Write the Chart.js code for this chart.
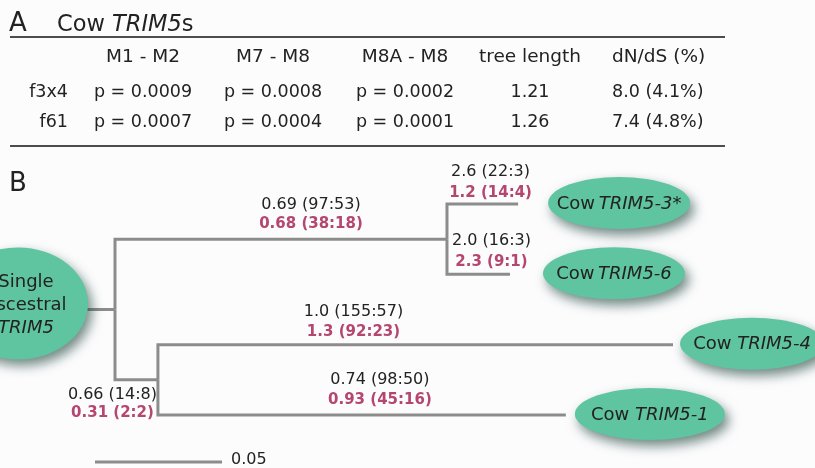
<!DOCTYPE html>
<html>
<head>
<meta charset="utf-8">
<script src="https://cdn.jsdelivr.net/npm/chart.js@4.4.1/dist/chart.umd.min.js"></script>
<style>
  html, body { margin: 0; padding: 0; background: #fcfcfd; }
  #wrap { position: relative; width: 815px; height: 468px; overflow: hidden; font-family: "DejaVu Sans", sans-serif; color: #222; }
  #tree { position: absolute; left: 0; top: 0; }
  .t { position: absolute; white-space: nowrap; line-height: 24px; height: 24px; }
  .c { width: 160px; text-align: center; }
  .r { width: 80px; text-align: right; }
  .rule { position: absolute; left: 10px; width: 715px; height: 2px; background: #4d4d4d; }
</style>
</head>
<body>
<div id="wrap">
  <canvas id="tree" width="815" height="468"></canvas>
  <div id="table"></div>
</div>
<script>
// ---- panel A: table ----
const columnHeaders = ["M1 - M2", "M7 - M8", "M8A - M8", "tree length", "dN/dS (%)"];
const rowLabels = ["f3x4", "f61"];
const f3x4Row = ["p = 0.0009", "p = 0.0008", "p = 0.0002", "1.21", "8.0 (4.1%)"];
const f61Row = ["p = 0.0007", "p = 0.0004", "p = 0.0001", "1.26", "7.4 (4.8%)"];

// ---- panel B: tree (branch lengths in substitutions/site) ----
const nodeNames = ["root", "A", "B", "TRIM5-3*", "TRIM5-6", "TRIM5-4", "TRIM5-1"];
const nodeParent = [-1, 0, 0, 1, 1, 2, 2];
const branchLength = [0, 0.1307, 0.0169, 0.0280, 0.0248, 0.2028, 0.1606];
const leafOrder = [null, null, null, 0, 1, 2, 3];
const leafSpaced = [null, null, null, false, false, true, true];
const f3x4Omega = ["", "0.69 (97:53)", "0.66 (14:8)", "2.6 (22:3)", "2.0 (16:3)", "1.0 (155:57)", "0.74 (98:50)"];
const f61Omega = ["", "0.68 (38:18)", "0.31 (2:2)", "1.2 (14:4)", "2.3 (9:1)", "1.3 (92:23)", "0.93 (45:16)"];
const rootLines = ["Single", "ascestral", "TRIM5"];
const scaleBarLength = 0.05;

// layout / style (pixels)
const COLORS = { line: "#8c8c8c", text: "#222", pink: "#b4466f", oval: "#5fc4a0" };
const colCenters = [143, 273, 405, 530];
const lastColLeft = 612;
const labelOffsets = [null, [30, -34, -15], [-24, 15, 33], [8, -32, -11], [13, -33, -12], [-62, -33, -13], [18, -35, -15]];
const ovalGap = [null, null, null, 30, 33, 7, 9];
const ovalRx = [null, null, null, 71, 71, 72, 75];

function cell(text, left, top, cls, size, extra = "") {
  return `<div class="t ${cls}" style="left:${left}px;top:${top - 12}px;font-size:${size}px;${extra}">${text}</div>`;
}

function buildTable() {
  let html = "";
  html += cell("A", 9, 22, "", 26);
  html += cell("Cow <i>TRIM5</i>s", 57, 23, "", 22.5);
  html += `<div class="rule" style="top:36px"></div>`;
  html += `<div class="rule" style="top:145px"></div>`;
  columnHeaders.forEach((h, i) => {
    html += i < 4 ? cell(h, colCenters[i] - 80, 56, "c", 18.5) : cell(h, lastColLeft, 56, "", 18.5);
  });
  [f3x4Row, f61Row].forEach((row, r) => {
    const y = r === 0 ? 91 : 121;
    html += cell(rowLabels[r], -12, y, "r", 17.5);
    row.forEach((v, i) => {
      html += i < 4 ? cell(v, colCenters[i] - 80, y, "c", 17.5) : cell(v, lastColLeft, y, "", 17.5);
    });
  });
  document.getElementById("table").innerHTML = html;
}
buildTable();

// node coordinates: x = cumulative branch length, y = leaf slot (internal = mean of children)
const nodeX = nodeNames.map(() => 0);
const nodeY = nodeNames.map(() => 0);
nodeNames.forEach((_, i) => { if (nodeParent[i] >= 0) nodeX[i] = nodeX[nodeParent[i]] + branchLength[i]; });
for (let i = nodeNames.length - 1; i >= 0; i--) {
  const kids = nodeParent.map((p, k) => (p === i ? k : -1)).filter((k) => k >= 0);
  nodeY[i] = kids.length ? kids.reduce((s, k) => s + nodeY[k], 0) / kids.length : leafOrder[i];
}

const pxUnit = scaleBarLength / 127;
const slotPx = 70.33;
const stubLength = 29 * pxUnit;
const scaleBarX = -20 * pxUnit;
const scaleBarY = 258 / slotPx;

const datasets = [];
nodeNames.forEach((_, i) => {
  const p = nodeParent[i];
  if (p < 0) return;
  datasets.push({ data: [{ x: nodeX[p], y: nodeY[p] }, { x: nodeX[p], y: nodeY[i] }, { x: nodeX[i], y: nodeY[i] }] });
});
datasets.push({ data: [{ x: -stubLength, y: nodeY[0] }, { x: 0, y: nodeY[0] }] });
datasets.push({ data: [{ x: scaleBarX, y: scaleBarY }, { x: scaleBarX + scaleBarLength, y: scaleBarY }] });
datasets.forEach((d) => Object.assign(d, { showLine: true, borderColor: COLORS.line, borderWidth: 3, pointRadius: 0, borderJoinStyle: "miter", borderCapStyle: "butt", tension: 0 }));

function oval(ctx, cx, cy, rx, ry) {
  ctx.save();
  ctx.shadowColor = "rgba(20,60,50,0.6)";
  ctx.shadowBlur = 12;
  ctx.shadowOffsetX = 4;
  ctx.shadowOffsetY = 6;
  ctx.fillStyle = COLORS.oval;
  ctx.beginPath();
  ctx.ellipse(cx, cy, rx, ry, 0, 0, Math.PI * 2);
  ctx.fill();
  ctx.restore();
}

const treeDecor = {
  id: "treeDecor",
  afterDatasetsDraw(chart) {
    const ctx = chart.ctx;
    const xs = chart.scales.x, ys = chart.scales.y;
    const px = (i) => xs.getPixelForValue(nodeX[i]);
    const py = (i) => ys.getPixelForValue(nodeY[i]);
    ctx.save();
    ctx.textBaseline = "middle";

    // panel letter
    ctx.fillStyle = COLORS.text;
    ctx.font = "26px 'DejaVu Sans'";
    ctx.textAlign = "left";
    ctx.fillText("B", 9, 184);

    // root oval
    const stubLeft = xs.getPixelForValue(-stubLength);
    const rcx = stubLeft + 2 - 70, rcy = py(0) - 6;
    oval(ctx, rcx, rcy, 70, 56);
    ctx.fillStyle = COLORS.text;
    ctx.textAlign = "center";
    rootLines.forEach((t, k) => {
      ctx.font = (k === 2 ? "italic " : "") + "18px 'DejaVu Sans'";
      ctx.fillText(t, 26, rcy - 21 + k * 23);
    });

    // leaf ovals
    nodeNames.forEach((name, i) => {
      if (leafOrder[i] === null) return;
      const rx = ovalRx[i];
      const cx = px(i) + ovalGap[i] + rx, cy = py(i) - 1;
      oval(ctx, cx, cy, rx, 26);
      const pre = leafSpaced[i] ? "Cow " : "Cow\u2009";
      ctx.font = "18px 'DejaVu Sans'";
      const w1 = ctx.measureText(pre).width;
      ctx.font = "italic 18px 'DejaVu Sans'";
      const w2 = ctx.measureText(name).width;
      const x0 = cx - (w1 + w2) / 2;
      ctx.textAlign = "left";
      ctx.fillStyle = COLORS.text;
      ctx.font = "18px 'DejaVu Sans'";
      ctx.fillText(pre, x0, cy + 1);
      ctx.font = "italic 18px 'DejaVu Sans'";
      ctx.fillText(name, x0 + w1, cy + 1);
    });

    // branch labels: f3x4 (black) above f61 (pink, bold)
    ctx.textAlign = "center";
    nodeNames.forEach((_, i) => {
      const p = nodeParent[i];
      if (p < 0) return;
      const [dx, dy1, dy2] = labelOffsets[i];
      const mx = (px(p) + px(i)) / 2 + dx, by = py(i);
      ctx.fillStyle = COLORS.text;
      ctx.font = "16px 'DejaVu Sans'";
      ctx.fillText(f3x4Omega[i], mx, by + dy1);
      ctx.fillStyle = COLORS.pink;
      ctx.font = "bold 15px 'DejaVu Sans'";
      ctx.fillText(f61Omega[i], mx, by + dy2);
    });

    // scale bar label
    ctx.fillStyle = COLORS.text;
    ctx.font = "16px 'DejaVu Sans'";
    ctx.textAlign = "left";
    ctx.fillText(String(scaleBarLength), xs.getPixelForValue(scaleBarX + scaleBarLength) + 9, ys.getPixelForValue(scaleBarY) - 2);
    ctx.restore();
  },
};

new Chart(document.getElementById("tree"), {
  type: "scatter",
  data: { datasets },
  options: {
    responsive: false,
    animation: false,
    layout: { padding: 0 },
    plugins: { legend: { display: false }, tooltip: { enabled: false } },
    scales: {
      x: { type: "linear", display: false, min: -115 * pxUnit, max: 700 * pxUnit },
      y: { type: "linear", display: false, reverse: true, min: -204 / slotPx, max: 264 / slotPx },
    },
  },
  plugins: [treeDecor],
});
</script>
</body>
</html>
